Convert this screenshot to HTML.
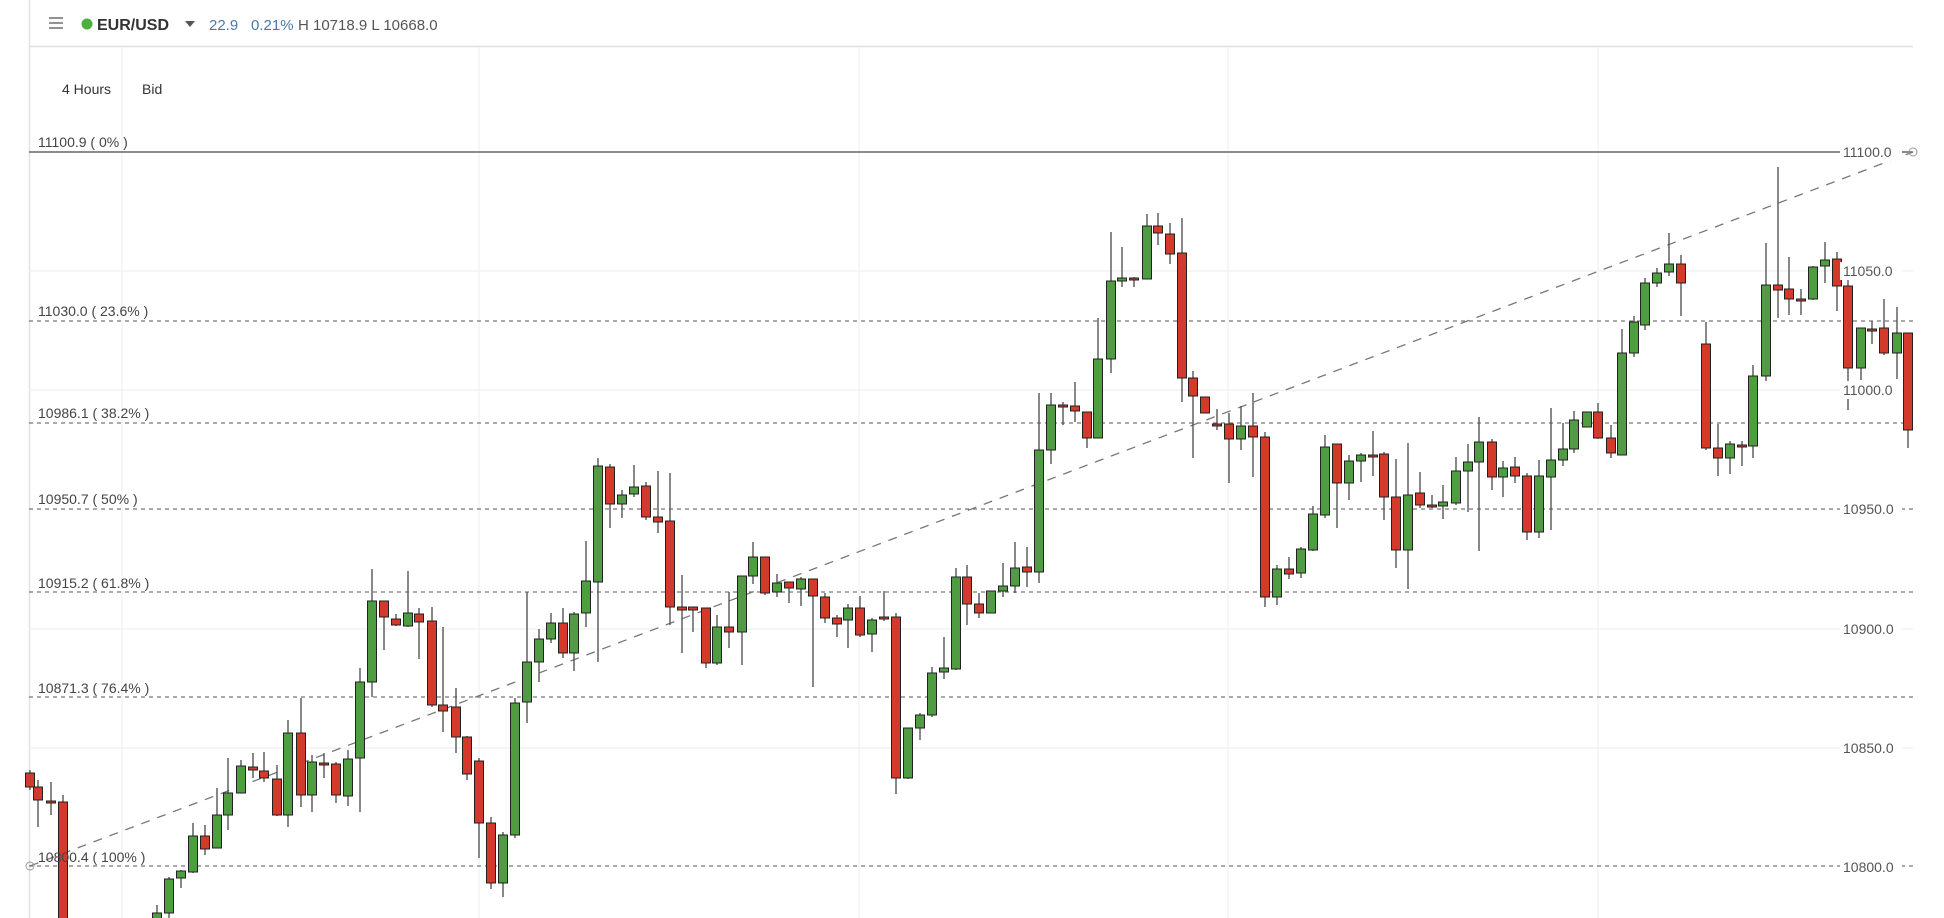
<!DOCTYPE html>
<html><head><meta charset="utf-8"><style>
html,body{margin:0;padding:0;background:#fff;}
body{width:1944px;height:918px;overflow:hidden;font-family:"Liberation Sans",sans-serif;}
</style></head><body>
<svg id="s" width="1944" height="918" xmlns="http://www.w3.org/2000/svg" style="position:absolute;left:0;top:0">
<rect width="1944" height="918" fill="#fff"/>
<line x1="29.5" y1="0" x2="29.5" y2="918" stroke="#e2e2e2" stroke-width="1.5"/>
<line x1="29" y1="46.5" x2="1913" y2="46.5" stroke="#e0e0e0" stroke-width="1.5"/>
<g stroke="#efefef" stroke-width="1.2">
<line x1="122" y1="47" x2="122" y2="918"/><line x1="479" y1="47" x2="479" y2="918"/><line x1="859" y1="47" x2="859" y2="918"/><line x1="1228" y1="47" x2="1228" y2="918"/><line x1="1598" y1="47" x2="1598" y2="918"/>
<line x1="29" y1="271" x2="1913" y2="271"/><line x1="29" y1="390" x2="1913" y2="390"/><line x1="29" y1="629" x2="1913" y2="629"/><line x1="29" y1="748" x2="1913" y2="748"/>
</g>
<line x1="29" y1="152" x2="1913" y2="152" stroke="#666" stroke-width="1.5"/>
<g stroke="#777" stroke-width="1.3" stroke-dasharray="4,4">
<line x1="29" y1="321" x2="1913" y2="321"/><line x1="29" y1="423" x2="1913" y2="423"/><line x1="29" y1="509" x2="1913" y2="509"/><line x1="29" y1="592" x2="1913" y2="592"/><line x1="29" y1="697" x2="1913" y2="697"/><line x1="29" y1="866" x2="1913" y2="866"/>
</g>
<line x1="30" y1="866" x2="1913" y2="152" stroke="#777" stroke-width="1.3" stroke-dasharray="9,8"/>
<circle cx="1913" cy="152" r="4" fill="none" stroke="#999"/>
<circle cx="30" cy="866" r="4" fill="none" stroke="#999"/>
<g id="c"></g>
<g font-size="14" fill="#444" font-family="Liberation Sans, sans-serif">
<text x="38" y="147">11100.9 ( 0% )</text>
<text x="38" y="316">11030.0 ( 23.6% )</text>
<text x="38" y="418">10986.1 ( 38.2% )</text>
<text x="38" y="504">10950.7 ( 50% )</text>
<text x="38" y="588">10915.2 ( 61.8% )</text>
<text x="38" y="693">10871.3 ( 76.4% )</text>
<text x="38" y="862">10800.4 ( 100% )</text>
</g>
<g font-size="14" fill="#555" font-family="Liberation Sans, sans-serif">
<rect x="1840" y="143" width="62" height="18" fill="#fff"/><text x="1843" y="157">11100.0</text>
<rect x="1840" y="262" width="62" height="18" fill="#fff"/><text x="1843" y="276">11050.0</text>
<rect x="1840" y="381" width="62" height="18" fill="#fff"/><text x="1843" y="395">11000.0</text>
<rect x="1840" y="500" width="62" height="18" fill="#fff"/><text x="1843" y="514">10950.0</text>
<rect x="1840" y="620" width="62" height="18" fill="#fff"/><text x="1843" y="634">10900.0</text>
<rect x="1840" y="739" width="62" height="18" fill="#fff"/><text x="1843" y="753">10850.0</text>
<rect x="1840" y="858" width="62" height="18" fill="#fff"/><text x="1843" y="872">10800.0</text>
</g>
<g stroke="#777" stroke-width="1.6"><line x1="49" y1="18" x2="63" y2="18"/><line x1="49" y1="23" x2="63" y2="23"/><line x1="49" y1="28" x2="63" y2="28"/></g>
<circle cx="87" cy="24" r="5.5" fill="#4caf3f"/>
<text x="97" y="30" font-size="16" fill="#333" font-weight="bold">EUR/USD</text>
<path d="M185 21 L195 21 L190 27 Z" fill="#555"/>
<text x="209" y="30" font-size="15" fill="#4a78b0">22.9</text>
<text x="251" y="30" font-size="15" fill="#4a78b0">0.21%</text>
<text x="298" y="30" font-size="15" fill="#555">H 10718.9 L 10668.0</text>
<text x="62" y="94" font-size="14" fill="#333">4 Hours</text>
<text x="142" y="94" font-size="14" fill="#333">Bid</text>
</svg>
<script>
var d=[
[30,773,787,770,790],[38,787,800,780,827],[51,801,802,782,815],[63,802,930,795,930],
[157,930,913,905,930],[169,913,879,877,918],[181,878,871,870,888],[193,872,836,823,873],[205,836,849,825,855],[217,848,815,788,848],[228,815,793,758,830],[241,793,766,760,793],[253,767,770,753,778],[264,771,778,752,782],[277,779,815,765,816],[288,815,733,720,827],[301,733,795,698,807],[312,795,762,755,812],[324,763,764,753,778],[336,764,795,762,803],[348,796,759,750,806],[360,758,682,668,812],[372,682,601,569,697],[384,601,617,601,650],[396,619,625,614,626],[408,626,613,571,627],[419,614,622,608,659],[432,621,705,607,707],[443,705,711,627,732],[456,707,737,688,753],[467,737,774,736,780],[479,761,823,758,858],[491,823,883,817,889],[503,883,835,832,897],[515,835,703,698,838],
[527,702,662,592,723],[539,662,639,629,682],[551,639,623,613,643],[563,623,653,608,658],[574,653,614,612,671],[586,613,581,541,627],[598,582,466,458,662],[610,467,504,464,528],[622,504,495,490,518],[634,494,487,465,497],[646,486,517,482,520],[658,517,522,471,533],[670,521,607,473,625],[682,607,610,575,653],[693,607,610,607,632],[706,608,663,608,668],[717,663,627,615,665],[729,627,632,592,648],[742,632,576,576,665],[753,576,557,542,584],[765,557,593,557,595],[777,592,583,574,597],[789,582,588,582,603],[801,589,579,577,606],[813,579,596,579,687],[825,597,618,593,623],[837,618,624,615,637],[848,620,608,604,648],[860,608,635,596,637],[872,634,620,618,652],[884,617,619,591,621],[896,617,778,613,794],[908,778,728,728,779],[920,728,715,713,740],[932,715,673,667,717],[944,672,668,637,679],[956,669,577,568,670],[967,577,604,565,625],
[979,604,613,593,618],[991,613,591,591,613],[1003,591,586,563,597],[1015,586,568,542,593],[1027,567,572,547,587],[1039,572,450,393,583],[1051,450,405,393,464],[1063,405,406,402,425],[1075,406,411,382,422],[1087,412,438,412,448],[1098,438,359,318,438],[1111,359,281,232,373],[1122,281,278,247,287],[1134,278,279,277,287],[1147,279,226,214,279],[1158,226,233,213,245],[1170,234,254,223,264],[1182,253,378,218,402],[1193,378,396,371,458],[1205,397,413,397,413],[1217,424,425,409,430],[1229,424,439,413,483],[1241,439,426,406,450],[1253,426,437,393,477],[1265,437,597,432,607],[1277,597,569,565,605],[1289,569,574,557,579],[1301,573,549,547,578],[1313,550,514,506,551],[1325,515,447,435,518],[1337,444,483,444,528],[1349,483,461,455,500],[1361,461,455,453,482],[1373,455,456,431,476],[1384,454,497,452,520],[1396,497,550,459,568],[1408,550,495,443,589],[1420,493,505,472,508],[1432,505,506,495,508],[1443,506,502,485,519],
[1456,503,471,457,505],[1468,471,462,444,512],[1479,462,442,417,551],[1492,442,477,439,490],[1503,477,468,461,497],[1515,467,476,457,483],[1527,476,532,473,540],[1539,532,476,460,538],[1551,477,460,408,530],[1563,460,449,423,466],[1574,449,420,411,453],[1587,427,412,412,427],[1598,412,438,403,439],[1611,438,453,425,458],[1622,455,353,329,455],[1634,353,322,316,357],[1645,325,283,278,330],[1657,283,273,268,287],[1669,272,264,233,276],[1681,264,283,255,316],
[1706,344,448,322,450],[1718,448,458,424,476],[1730,458,444,441,474],[1742,445,446,441,466],[1753,446,376,365,458],[1766,376,285,243,381],[1778,285,290,167,318],[1789,289,299,257,315],[1801,299,300,289,315],[1813,299,267,266,300],[1825,266,260,242,283],[1837,259,286,252,311],[1848,286,368,262,410],[1861,368,328,328,380],[1872,329,330,321,344],[1884,328,353,299,355],[1897,353,333,307,379],[1908,333,430,333,448]
];
var g=document.getElementById('c'),h='';
d.forEach(function(c){var x=c[0],o=c[1],cl=c[2],hi=c[3],lo=c[4];
var up=cl<o;var t=Math.min(o,cl),b=Math.max(o,cl);if(b-t<2){b=t+2;}
h+='<line x1="'+x+'" y1="'+hi+'" x2="'+x+'" y2="'+lo+'" stroke="#555" stroke-width="1.4"/>';
h+='<rect x="'+(x-4.5)+'" y="'+t+'" width="9" height="'+(b-t)+'" fill="'+(up?'#4f9c43':'#d43a2c')+'" stroke="#222" stroke-width="1"/>';});
g.innerHTML=h;
</script>
</body></html>
